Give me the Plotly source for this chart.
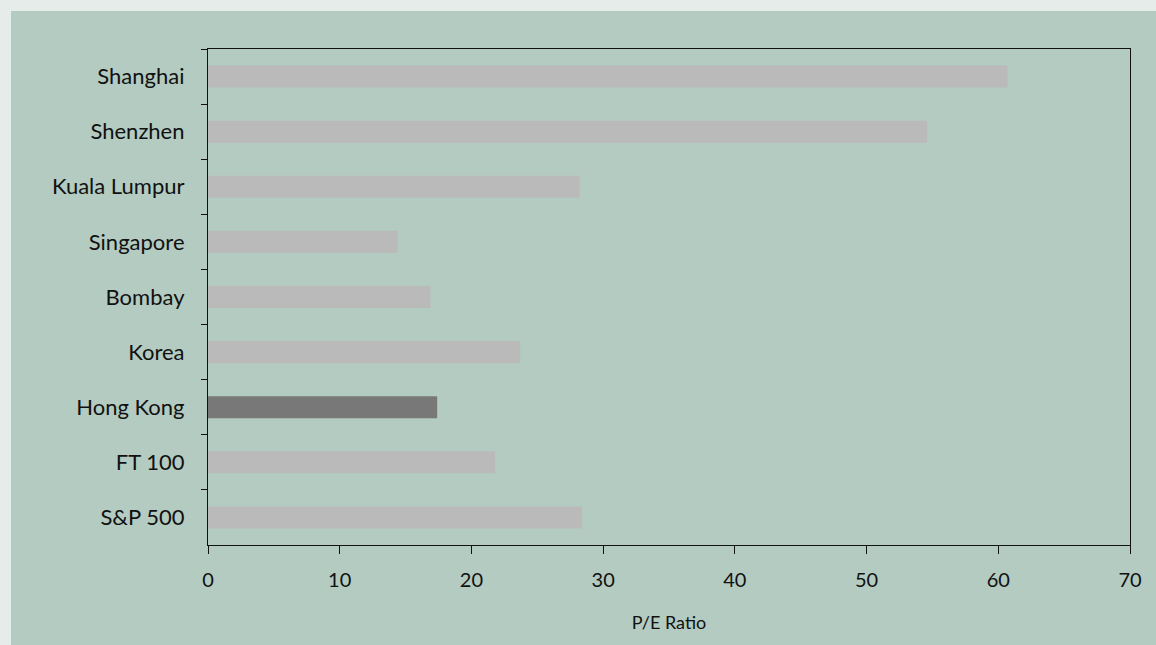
import plotly.graph_objects as go

categories = ["Shanghai", "Shenzhen", "Kuala Lumpur", "Singapore", "Bombay",
              "Korea", "Hong Kong", "FT 100", "S&P 500"]
pe_ratio = [60.7, 54.6, 28.2, 14.4, 16.9, 23.7, 17.4, 21.8, 28.4]
highlight = "Hong Kong"
x_ticks = [0, 10, 20, 30, 40, 50, 60, 70]

bar_colors = ["#787878" if c == highlight else "#bababa" for c in categories]

PANEL = "#b3cbc0"
OUTER = "#e6ecea"

fig = go.Figure(go.Bar(
    x=pe_ratio, y=categories, orientation="h",
    marker=dict(color=bar_colors, line=dict(width=0)),
    width=0.4,
))

W, H = 1156, 645
L, R, T, B = 208, 26, 49, 100
pw, ph = W - L - R, H - T - B

fig.add_shape(type="rect", xref="paper", yref="paper",
              x0=(11 - L) / pw, x1=(W - L) / pw,
              y0=-B / ph, y1=(H - B - 11) / ph,
              fillcolor=PANEL, line=dict(width=0), layer="below")

fig.update_layout(
    width=W, height=H,
    margin=dict(l=L, r=R, t=T, b=B),
    paper_bgcolor=OUTER, plot_bgcolor=PANEL,
    font=dict(family="Lato, sans-serif", size=22, color="#111"),
    showlegend=False,
    bargap=0.6,
)
fig.update_xaxes(
    range=[0, 70], tickvals=x_ticks, ticks="outside", ticklen=8, tickcolor="#111",
    tickfont=dict(size=20),
    showline=True, linecolor="#111", linewidth=1.2, mirror=True,
    showgrid=False, zeroline=False, ticklabelstandoff=9,
    title=dict(text="P/E Ratio", font=dict(size=18), standoff=26),
)
fig.update_yaxes(
    categoryorder="array", categoryarray=categories, autorange="reversed",
    ticks="outside", ticklen=6, tickson="boundaries", tickcolor="#111",
    showline=True, linecolor="#111", linewidth=1.2, mirror=True,
    showgrid=False, zeroline=False, ticklabelstandoff=18,
)

fig.write_html("out.html")
